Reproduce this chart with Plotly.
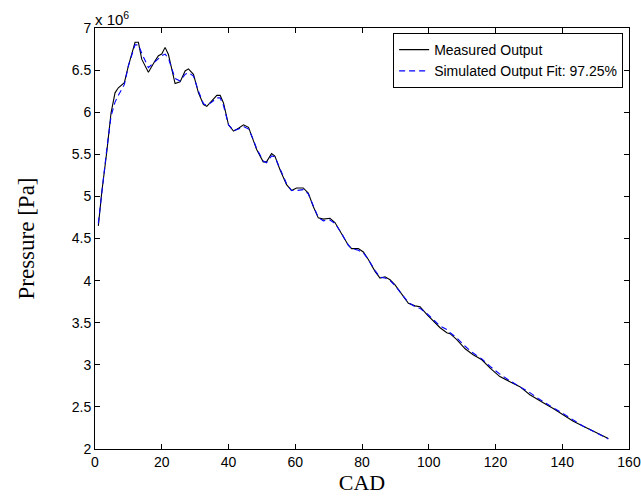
import plotly.graph_objects as go

# CAD positions (degrees)
cad = [1, 2, 3.5, 4.8, 6, 7, 8.8, 10, 12, 13, 14, 16, 18, 19, 20, 21, 22, 24, 25.5, 27,
       28, 29.5, 31, 32.5, 33.5, 35, 36.5, 37.5, 38.5, 40, 41.5, 43, 44.5, 46, 47.4, 48.4,
       50.4, 51.4, 52.9, 53.9, 55.4, 57.4, 58.9, 60.4, 62.4, 63.9, 65.4, 66.9, 68.4, 70.4,
       71.9, 73.9, 75.9, 76.9, 78.9, 80.4, 81.9, 83.9, 85.4, 86.9, 88.4, 89.9, 91.9, 93.9,
       95.9, 97.4, 99.4, 101.4, 103.4, 105.4, 106.4, 108.4, 110.9, 113.3, 115.9, 118.4,
       121.3, 124.3, 127.3, 130.3, 132.8, 134.3, 137.3, 140.3, 143.3, 146.3, 149.3, 152, 153.8]

# Pressure in units of 10^6 Pa
measured = [4.65, 5.04, 5.52, 5.99, 6.23, 6.29, 6.35, 6.55, 6.83, 6.83, 6.63, 6.475, 6.61,
            6.67, 6.69, 6.77, 6.685, 6.34, 6.36, 6.49, 6.515, 6.45, 6.23, 6.09, 6.07, 6.13,
            6.20, 6.20, 6.11, 5.85, 5.775, 5.81, 5.85, 5.82, 5.68, 5.56, 5.41, 5.41, 5.51,
            5.48, 5.32, 5.14, 5.07, 5.10, 5.10, 5.04, 4.88, 4.745, 4.73, 4.74, 4.69, 4.55,
            4.42, 4.38, 4.38, 4.34, 4.25, 4.11, 4.03, 4.045, 4.01, 3.95, 3.835, 3.73, 3.70,
            3.69, 3.60, 3.52, 3.44, 3.38, 3.37, 3.30, 3.19, 3.12, 3.06, 2.96, 2.86, 2.80,
            2.74, 2.645, 2.59, 2.55, 2.48, 2.40, 2.33, 2.27, 2.21, 2.16, 2.125]

simulated = [4.68, 5.05, 5.55, 5.95, 6.12, 6.20, 6.33, 6.55, 6.80, 6.80, 6.70, 6.53, 6.60,
             6.64, 6.67, 6.69, 6.64, 6.40, 6.37, 6.45, 6.47, 6.43, 6.25, 6.10, 6.08, 6.12,
             6.17, 6.17, 6.08, 5.85, 5.78, 5.80, 5.83, 5.80, 5.68, 5.57, 5.42, 5.40, 5.48,
             5.47, 5.33, 5.15, 5.07, 5.07, 5.08, 5.03, 4.89, 4.75, 4.71, 4.72, 4.68, 4.56,
             4.42, 4.38, 4.36, 4.33, 4.25, 4.12, 4.04, 4.03, 4.00, 3.94, 3.84, 3.74, 3.69,
             3.67, 3.61, 3.53, 3.46, 3.42, 3.38, 3.32, 3.22, 3.14, 3.07, 2.98, 2.89, 2.81,
             2.74, 2.67, 2.60, 2.56, 2.49, 2.42, 2.34, 2.27, 2.21, 2.16, 2.12]

x_ticks = [0, 20, 40, 60, 80, 100, 120, 140, 160]
y_ticks = [2, 2.5, 3, 3.5, 4, 4.5, 5, 5.5, 6, 6.5, 7]
y_tick_labels = ["2", "2.5", "3", "3.5", "4", "4.5", "5", "5.5", "6", "6.5", "7"]

fig = go.Figure()
fig.add_trace(go.Scatter(x=cad, y=measured, mode="lines", name="Measured Output",
                         line=dict(color="black", width=1.1)))
fig.add_trace(go.Scatter(x=cad, y=simulated, mode="lines",
                         name="Simulated Output Fit: 97.25%",
                         line=dict(color="#0000ff", width=1.1, dash="6px,4px")))

axis_common = dict(showgrid=False, zeroline=False, showline=True, linecolor="black",
                   linewidth=1, mirror="ticks", ticks="inside", ticklen=5,
                   tickcolor="black", automargin=False,
                   tickfont=dict(family="Liberation Sans, Arial", size=14, color="black"))

fig.update_layout(
    width=641, height=498,
    margin=dict(l=95, r=12, t=28, b=49),
    paper_bgcolor="white", plot_bgcolor="white",
    showlegend=True,
    legend=dict(x=0.989, y=0.988, xanchor="right", yanchor="top",
                bgcolor="white", bordercolor="black", borderwidth=1,
                font=dict(family="Liberation Sans, Arial", size=14, color="black"),
                tracegroupgap=0, itemwidth=30),
    xaxis=dict(range=[0, 160], tickvals=x_ticks,
               title=dict(text="CAD", standoff=2,
                          font=dict(family="Liberation Serif, Times New Roman", size=22,
                                    color="black")),
               **axis_common),
    yaxis=dict(range=[2, 7], tickvals=y_ticks, ticktext=y_tick_labels,
               title=dict(text="Pressure [Pa]", standoff=30,
                          font=dict(family="Liberation Serif, Times New Roman", size=23,
                                    color="black")),
               **axis_common),
)

fig.add_annotation(xref="paper", yref="paper", x=0, y=1, xanchor="left", yanchor="bottom",
                   text="x 10<sup>6</sup>", showarrow=False, xshift=-2, yshift=-2,
                   font=dict(family="Liberation Sans, Arial", size=15, color="black"))

fig.write_html("out.html")
